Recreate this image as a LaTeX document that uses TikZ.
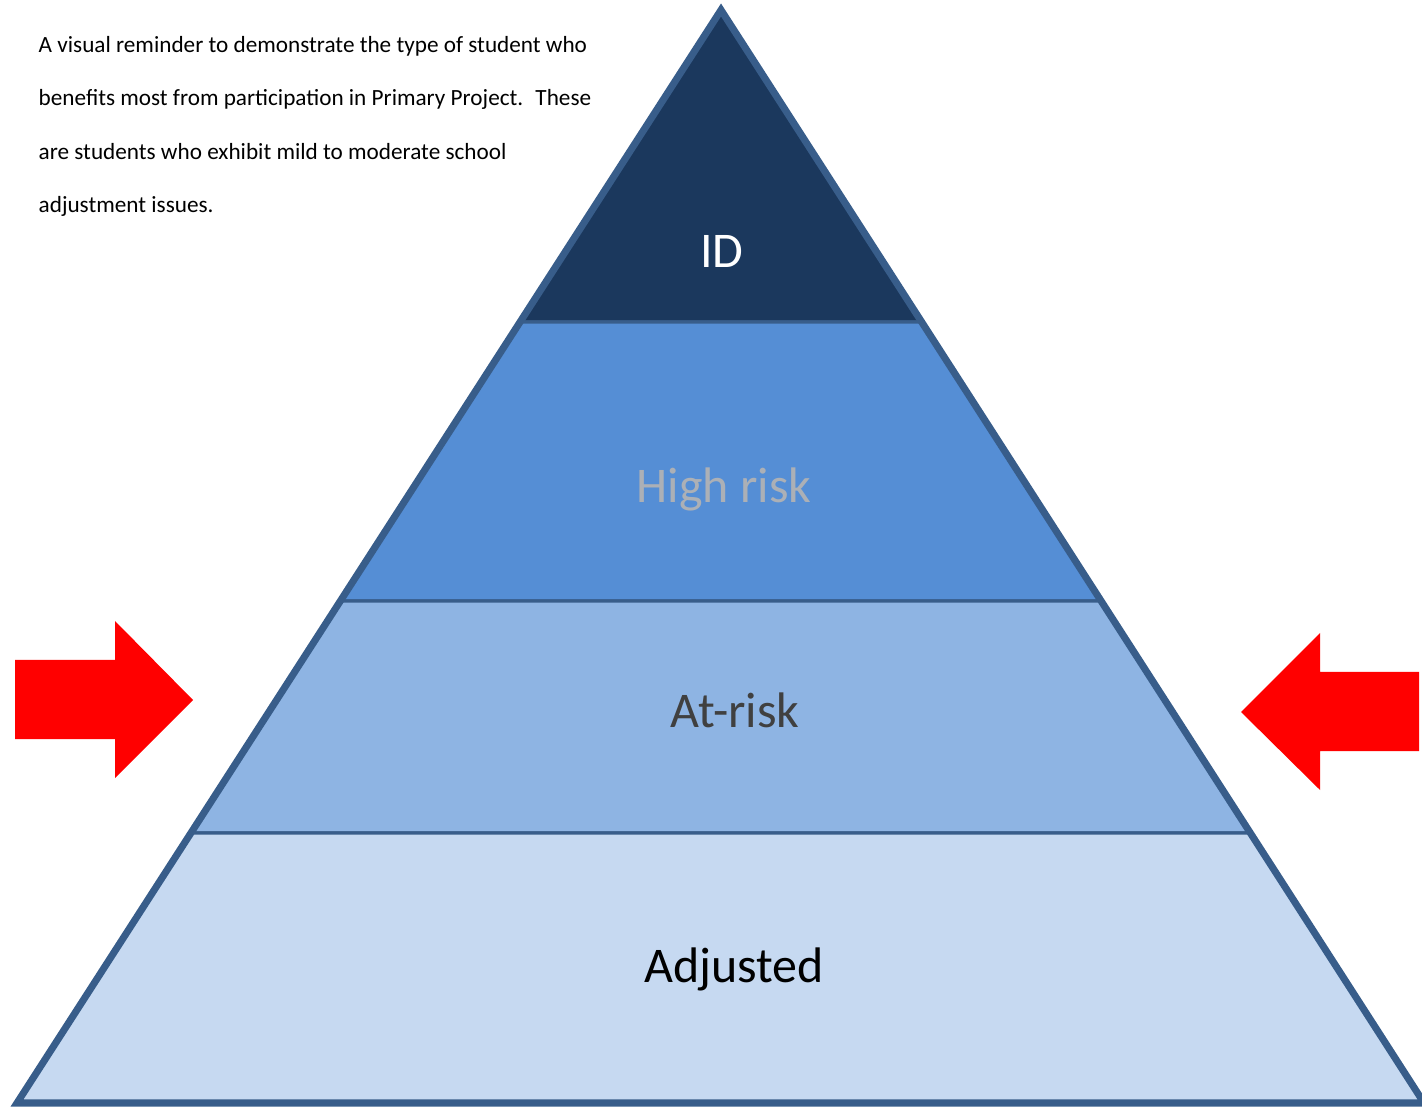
\documentclass[tikz,border=0pt]{standalone}
\usepackage{fontspec}
\setmainfont{Carlito}
\usepackage{tikz}
\usetikzlibrary{calc}

\definecolor{edgeblue}{RGB}{56,93,138}
\definecolor{idblue}{RGB}{27,56,93}
\definecolor{highblue}{RGB}{85,142,213}
\definecolor{atblue}{RGB}{142,180,227}
\definecolor{adjblue}{RGB}{198,217,241}
\definecolor{highgray}{RGB}{172,176,182}
\definecolor{atgray}{RGB}{64,64,64}

\tikzset{
  layerlabel/.style={anchor=base, inner sep=0pt, font=\fontsize{14.2pt}{17pt}\selectfont},
  notetext/.style={anchor=base west, inner sep=0pt, font=\fontsize{6.6pt}{8pt}\selectfont},
  redarrow/.style={fill=red}
}

\begin{document}
\begin{tikzpicture}[x=0.01cm, y=-0.01cm]
\useasboundingbox (0,0) rectangle (1422,1107);
\coordinate (apex) at (721,10);
\coordinate (bl) at (17,1103);
\coordinate (br) at (1424,1103);
\foreach \ta/\tb/\col in {0/0.2855/idblue, 0.2855/0.5407/highblue, 0.5407/0.7530/atblue, 0.7530/1/adjblue}
\filldraw[fill=\col, draw=edgeblue, line width=0.9pt] ($(apex)!\ta!(bl)$) -- ($(apex)!\tb!(bl)$) -- ($(apex)!\tb!(br)$) -- ($(apex)!\ta!(br)$) -- cycle;
\draw[edgeblue, line width=2pt] (apex) -- (bl) -- (br) -- cycle;
\node[layerlabel, white] (idlabel) at (722,268) {ID};
\node[layerlabel, highgray] (highlabel) at (724,503) {High risk};
\node[layerlabel, atgray] (atlabel) at (735,728) {At-risk};
\node[layerlabel, black] (adjlabel) at (734,982) {Adjusted};
\foreach \i/\y/\txt in {1/53/{A visual reminder to demonstrate the type of student who},
  2/106/{benefits most from participation in Primary Project.~ These},
  3/160/{are students who exhibit mild to moderate school},
  4/213/{adjustment issues.}}
\node[notetext] (note\i) at (38,\y) {\txt};
\fill[redarrow] (15,660) -- (115,660) -- (115,621) -- (193,700) -- (115,778) -- (115,739) -- (15,739) -- cycle;
\fill[redarrow] (1419,672) -- (1320,672) -- (1320,633) -- (1241,712) -- (1320,790) -- (1320,751) -- (1419,751) -- cycle;
\end{tikzpicture}
\end{document}
